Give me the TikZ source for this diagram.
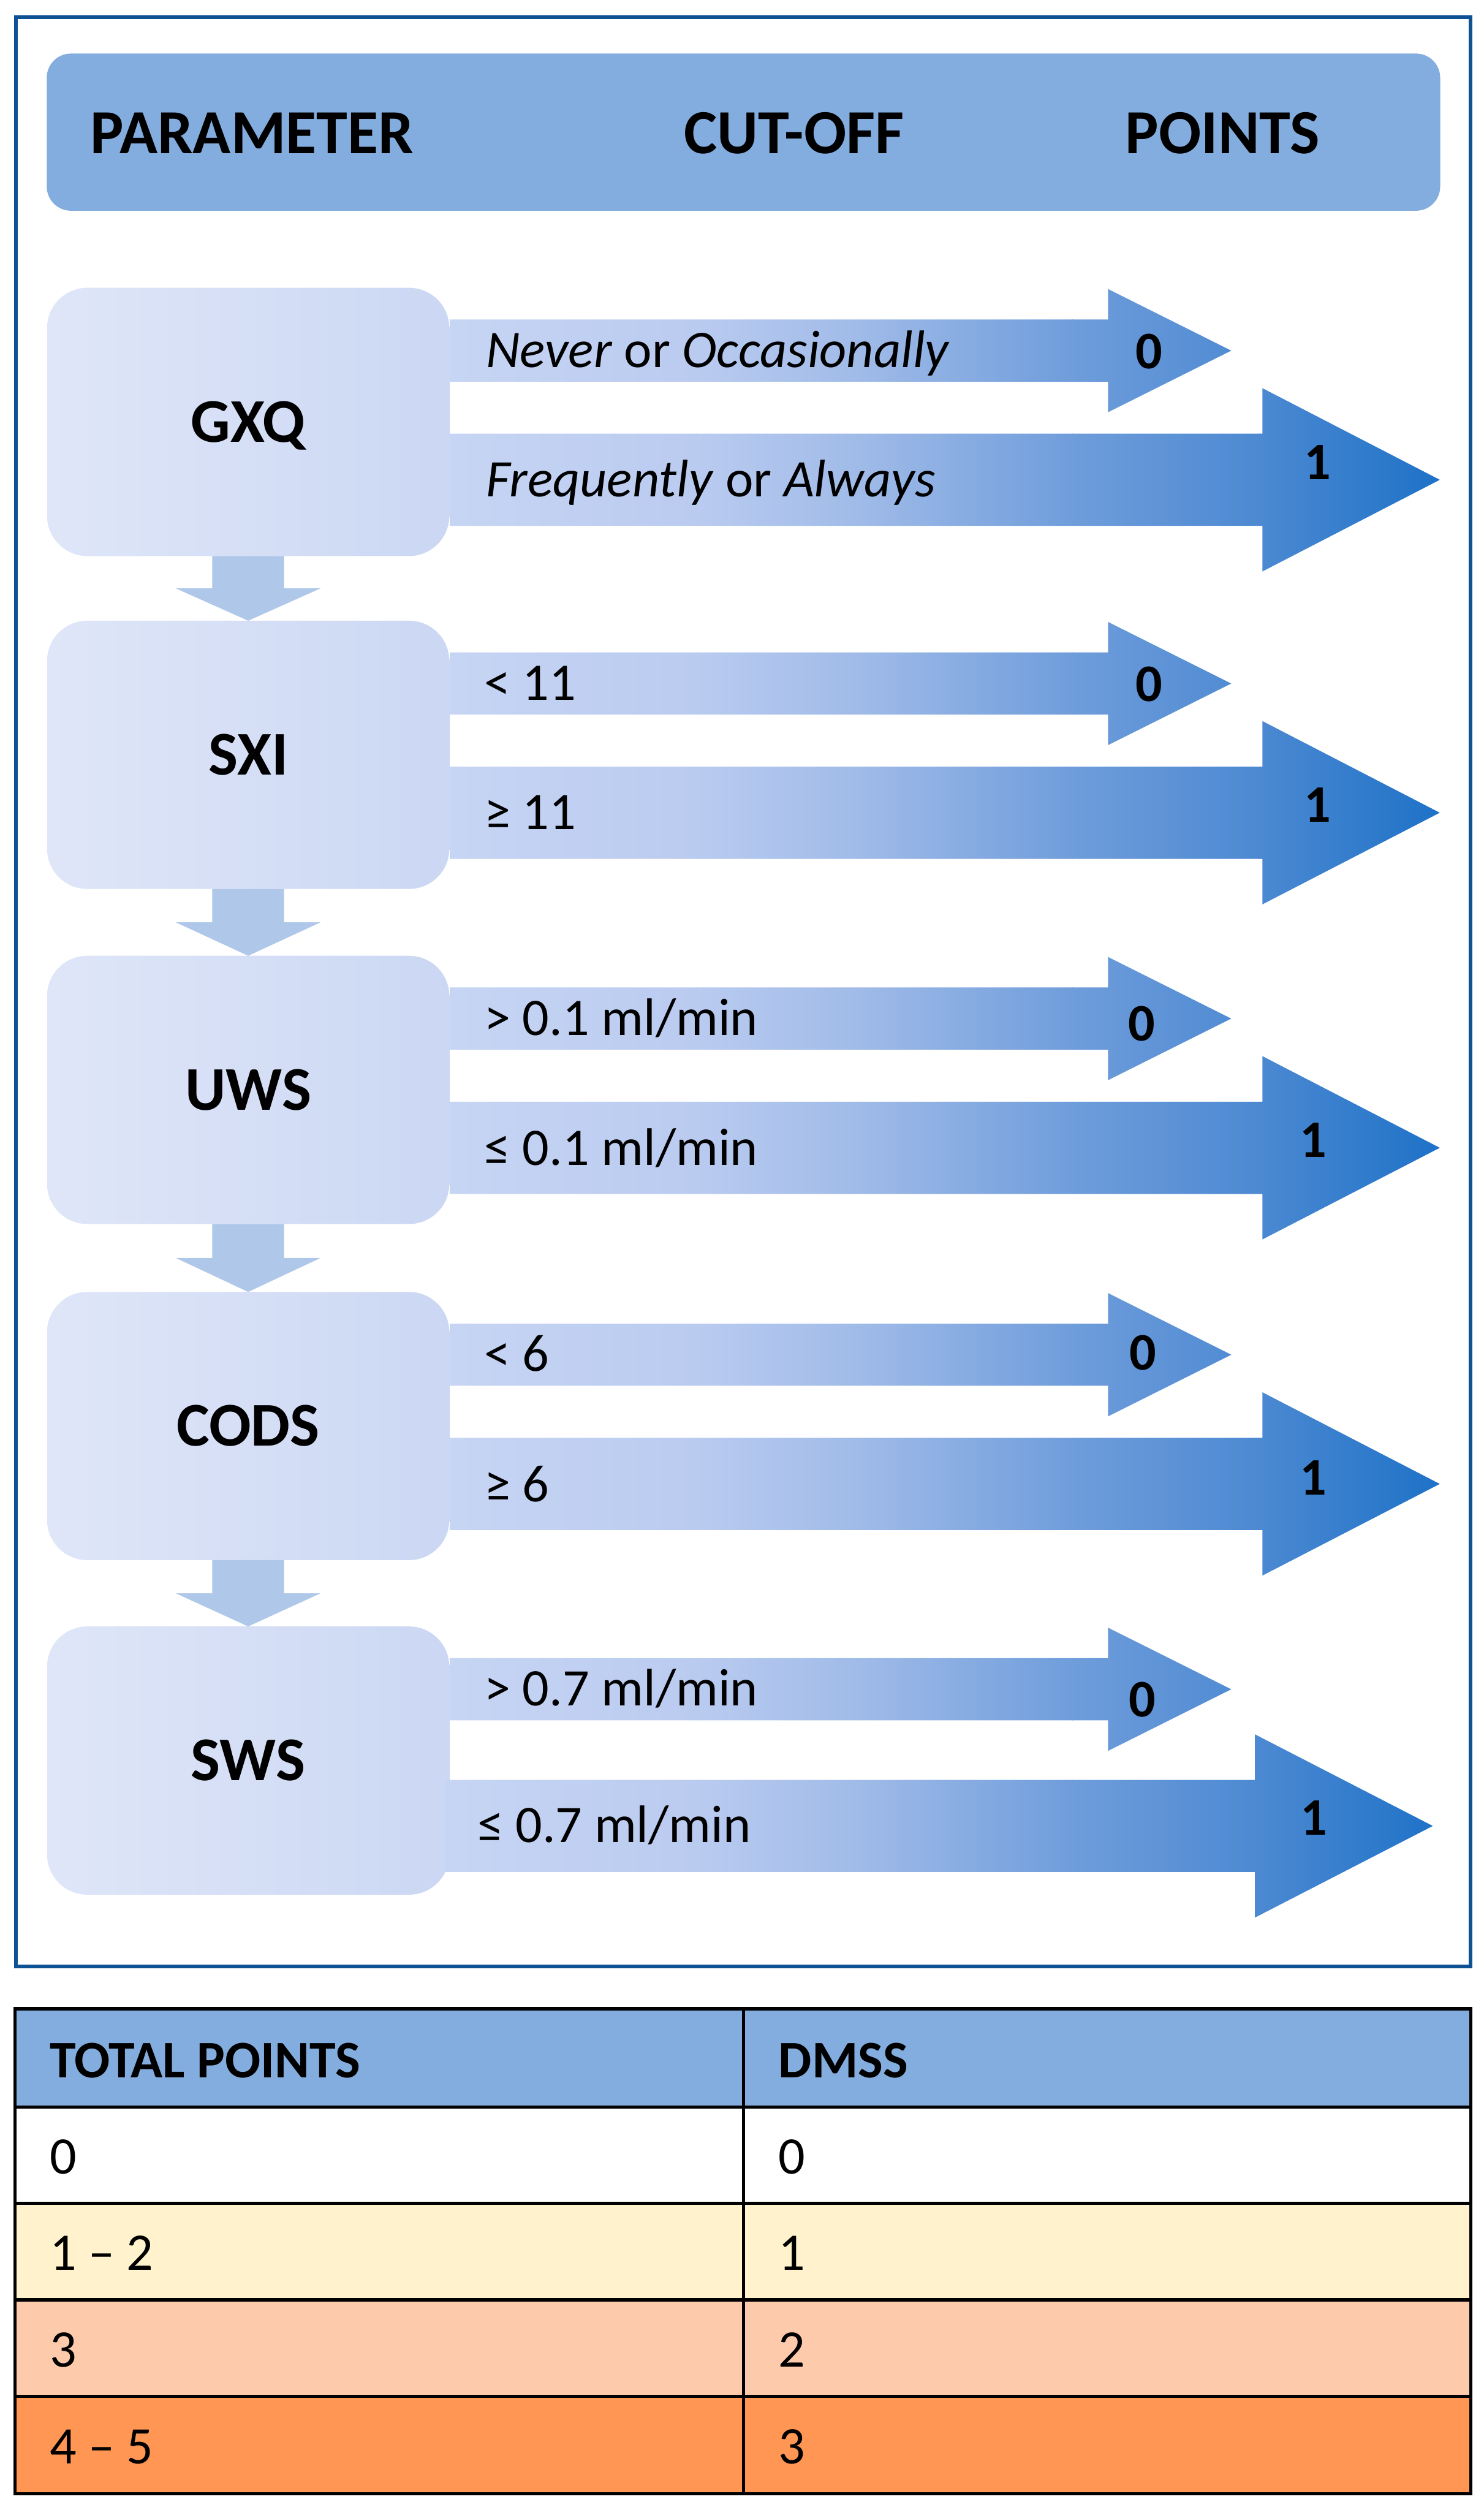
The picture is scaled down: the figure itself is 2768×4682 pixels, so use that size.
\documentclass[tikz,border=0pt]{standalone}
\usepackage{fontspec}
\setmainfont{Carlito}
\usetikzlibrary{calc}
\definecolor{frameblue}{RGB}{14,82,148}
\definecolor{hdrblue}{HTML}{84ADDF}
\definecolor{boxL}{HTML}{DFE6F8}
\definecolor{boxR}{HTML}{CBD7F3}
\definecolor{downblue}{HTML}{AFC8E9}
\definecolor{g0}{HTML}{C8D6F4}
\definecolor{g1}{HTML}{BACBF0}
\definecolor{g2}{HTML}{A0BBE8}
\definecolor{g3}{HTML}{6F9DDB}
\definecolor{g4}{HTML}{4C89D2}
\definecolor{g5}{HTML}{1C71C7}
\definecolor{rowA}{HTML}{FFF2CC}
\definecolor{rowB}{HTML}{FDCBAC}
\definecolor{rowC}{HTML}{FF9653}
\newcommand\gradfill[2]{%
  \shade[left color=g0,right color=g1] (800,{#1}) rectangle (1302,{#2});
  \shade[left color=g1,right color=g2] (1300,{#1}) rectangle (1602,{#2});
  \shade[left color=g2,right color=g3] (1600,{#1}) rectangle (2002,{#2});
  \shade[left color=g3,right color=g4] (2000,{#1}) rectangle (2352,{#2});
  \shade[left color=g4,right color=g5] (2350,{#1}) rectangle (2700,{#2});}
% #1 x start, #2 head x, #3 tip x, #4 centre y, #5 shaft half, #6 head half
\newcommand\blockarrow[6]{%
  \begin{scope}
    \clip (#1,{#4-#5}) -- (#2,{#4-#5}) -- (#2,{#4-#6}) -- (#3,#4) -- (#2,{#4+#6}) -- (#2,{#4+#5}) -- (#1,{#4+#5}) -- cycle;
    \gradfill{#4-#6}{#4+#6}
  \end{scope}}
\newcommand\flowdown[2]{%
  \fill[downblue] ($(#1.south)+(-67,0)$) -- ($(#1.south)!0.5!(#2.north)+(-67,0)$)
    -- ($(#1.south)!0.5!(#2.north)+(-135,0)$) -- (#2.north)
    -- ($(#1.south)!0.5!(#2.north)+(135,0)$) -- ($(#1.south)!0.5!(#2.north)+(67,0)$)
    -- ($(#1.south)+(67,0)$) -- cycle;}
\tikzset{
  pbox/.style={left color=boxL, right color=boxR, draw=none, rounded corners=0.75cm,
    minimum width=7.5cm, minimum height=5cm, inner sep=0pt, outer sep=0pt,
    text height=21.3pt, text depth=0pt,
    font=\fontsize{33}{39}\selectfont\bfseries},
  hdrtext/.style={anchor=base west, inner sep=0pt, font=\fontsize{33.3}{39}\selectfont\bfseries},
  cuttext/.style={anchor=base west, inner sep=0pt, font=\fontsize{28}{34}\selectfont},
  pttext/.style={anchor=center, inner sep=0pt, font=\fontsize{28}{34}\selectfont\bfseries},
  tabhead/.style={anchor=base west, inner sep=0pt, font=\fontsize{28}{34}\selectfont\bfseries},
  tabtext/.style={anchor=base west, inner sep=0pt, font=\fontsize{28}{34}\selectfont},
  tabline/.style={line width=0.06cm, black}
}
\begin{document}
\begin{tikzpicture}[x=0.01cm, y=-0.01cm]
\useasboundingbox (0,0) rectangle (2768,4682);
\fill[white] (0,0) rectangle (2768,4682);
% frame
\draw[frameblue, line width=0.07cm] (30,32) rectangle (2743,3668);
% header bar
\node[fill=hdrblue, rounded corners=0.45cm, minimum width=25.98cm, minimum height=2.93cm, inner sep=0pt, outer sep=0pt] (hdr) at (1387,246.5) {};
\node[hdrtext] (hpar) at (168,286) {PARAMETER};
\node[hdrtext] (hcut) at (1275,286) {CUT-OFF};
\node[hdrtext] (hpts) at (2099,286) {POINTS};
% parameter boxes
\node[pbox] (gxq) at (463,787) {GXQ};
\node[pbox] (sxi) at (463,1408) {SXI};
\node[pbox] (uws) at (463,2033) {UWS};
\node[pbox] (cods) at (463,2660) {CODS};
\node[pbox] (sws) at (463,3284) {SWS};
% down arrows
\flowdown{gxq}{sxi}
\flowdown{sxi}{uws}
\flowdown{uws}{cods}
\flowdown{cods}{sws}
% block arrows
\blockarrow{839}{2067}{2297}{654}{58}{115}
\blockarrow{839}{2355}{2686}{895}{86}{171}
\blockarrow{839}{2067}{2297}{1275}{58}{115}
\blockarrow{839}{2355}{2686}{1516}{86}{171}
\blockarrow{839}{2067}{2297}{1900}{58}{115}
\blockarrow{839}{2355}{2686}{2141}{86}{171}
\blockarrow{839}{2067}{2297}{2527}{58}{115}
\blockarrow{839}{2355}{2686}{2768}{86}{171}
\blockarrow{839}{2067}{2297}{3151}{58}{115}
\blockarrow{830}{2341}{2673}{3406}{86}{171}
% cut-off texts
\node[cuttext] (c1a) at (906,685) {\textit{Never} or \textit{Occasionally}};
\node[cuttext] (c1b) at (906,926) {\textit{Frequently} or \textit{Always}};
\node[cuttext] (c2a) at (903,1306) {< 11};
\node[cuttext] (c2b) at (903,1547) {≥ 11};
\node[cuttext] (c3a) at (903,1931) {> 0.1 ml/min};
\node[cuttext] (c3b) at (903,2174) {≤ 0.1 ml/min};
\node[cuttext] (c4a) at (903,2558) {< 6};
\node[cuttext] (c4b) at (903,2801) {≥ 6};
\node[cuttext] (c5a) at (903,3182) {> 0.7 ml/min};
\node[cuttext] (c5b) at (890,3437) {≤ 0.7 ml/min};
% points
\node[pttext] (p1a) at (2144,656) {0};
\node[pttext] (p1b) at (2458,862) {1};
\node[pttext] (p2a) at (2144,1276) {0};
\node[pttext] (p2b) at (2458,1502) {1};
\node[pttext] (p3a) at (2130,1910) {0};
\node[pttext] (p3b) at (2450,2127) {1};
\node[pttext] (p4a) at (2132,2523) {0};
\node[pttext] (p4b) at (2450,2756) {1};
\node[pttext] (p5a) at (2131,3170) {0};
\node[pttext] (p5b) at (2451,3391) {1};
% table
\fill[hdrblue] (28,3747) rectangle (2744,3930);
\fill[white] (28,3930) rectangle (2744,4110);
\fill[rowA] (28,4110) rectangle (2744,4290);
\fill[rowB] (28,4290) rectangle (2744,4470);
\fill[rowC] (28,4470) rectangle (2744,4652);
\draw[tabline] (28,3747) rectangle (2744,4652);
\draw[tabline] (1387,3747) -- (1387,4652);
\foreach \yy in {3930,4110,4290,4470} \draw[tabline] (28,\yy) -- (2744,\yy);
\node[tabhead] (t0a) at (92,3876) {TOTAL POINTS};
\node[tabhead] (t0b) at (1452,3876) {DMSS};
\node[tabtext] (t1a) at (92,4055) {0};
\node[tabtext] (t1b) at (1452,4055) {0};
\node[tabtext] (t2a) at (92,4235) {1 – 2};
\node[tabtext] (t2b) at (1452,4235) {1};
\node[tabtext] (t3a) at (92,4415) {3};
\node[tabtext] (t3b) at (1452,4415) {2};
\node[tabtext] (t4a) at (92,4596) {4 – 5};
\node[tabtext] (t4b) at (1452,4596) {3};
\end{tikzpicture}
\end{document}
